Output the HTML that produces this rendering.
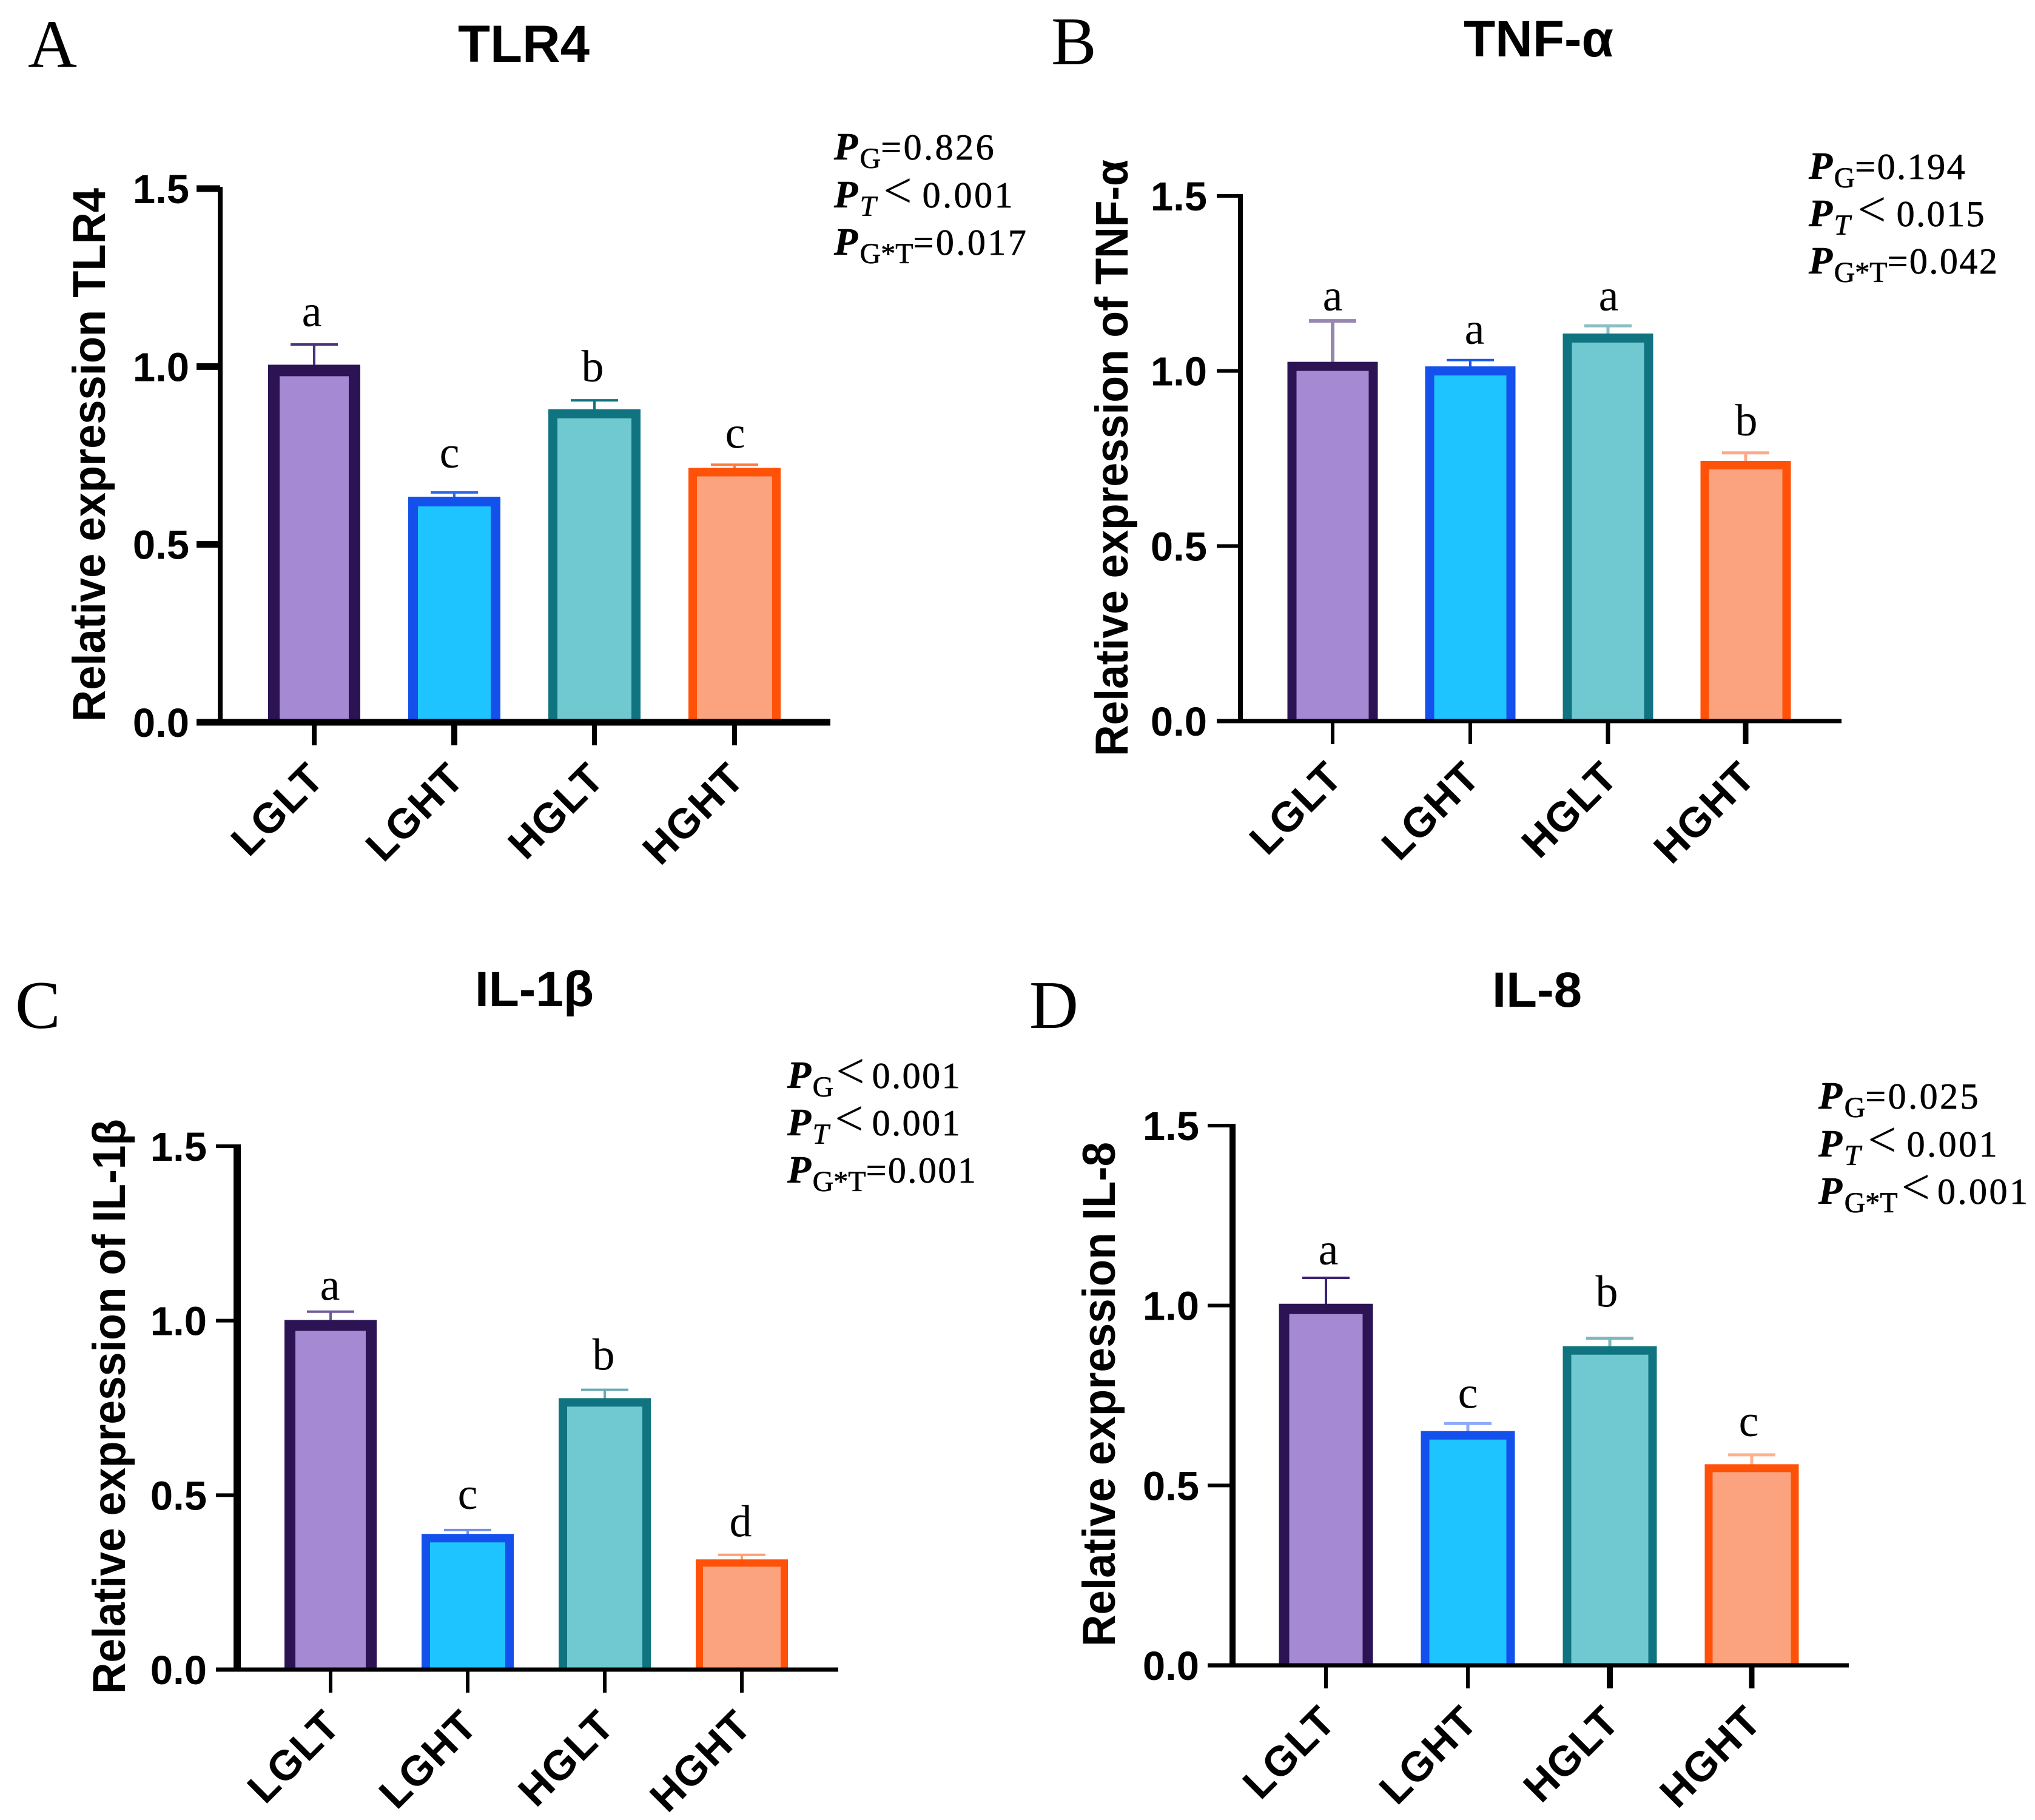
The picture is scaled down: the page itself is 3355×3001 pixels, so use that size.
<!DOCTYPE html>
<html lang="en">
<head>
<meta charset="utf-8">
<title>Relative expression of TLR4, TNF-α, IL-1β and IL-8</title>
<style>
html,body{margin:0;padding:0;background:#fff;width:3355px;height:3001px;overflow:hidden}
svg{display:block}
.sans{font-family:"Liberation Sans",sans-serif;font-weight:700;fill:#000}
.serif{font-family:"Liberation Serif",serif;fill:#000}
.pval{font-family:"Liberation Serif",serif;font-size:60px;letter-spacing:3.5px;fill:#000;stroke:#000;stroke-width:.7px}
.pval.tight{letter-spacing:2.5px}
.pval .p{font-style:italic;font-weight:700;font-size:64px}
.pval .s{font-size:48px;letter-spacing:0}
.pval .i{font-style:italic}
.pval .lt{font-size:84px;letter-spacing:4px;stroke-width:0}
.xl{letter-spacing:1.5px}
</style>
</head>
<body>
<svg id="figure" xmlns="http://www.w3.org/2000/svg" width="3355" height="3001" viewBox="0 0 3355 3001">
<rect width="3355" height="3001" fill="#fff"/>

<g id="panel-a">
  <text class="serif" x="46" y="110" font-size="112">A</text>
  <text class="sans" x="755" y="102" font-size="86" textLength="217" lengthAdjust="spacingAndGlyphs">TLR4</text>
  <text class="sans" transform="translate(173 1190) rotate(-90)" font-size="76" textLength="880" lengthAdjust="spacingAndGlyphs">Relative expression TLR4</text>
  <text class="pval" x="1375" y="263"><tspan class="p">P</tspan><tspan class="s" dy="14">G</tspan><tspan dy="-14">=0.826</tspan></text>
  <text class="pval" x="1375" y="342"><tspan class="p">P</tspan><tspan class="s i" dy="14">T</tspan><tspan class="lt" dy="-14" dx="12">&lt;</tspan><tspan dx="13">0.001</tspan></text>
  <text class="pval" x="1375" y="420"><tspan class="p">P</tspan><tspan class="s" dy="14">G*T</tspan><tspan dy="-14">=0.017</tspan></text>
</g>

<g id="panel-b">
  <text class="serif" x="1733" y="106" font-size="112">B</text>
  <text class="sans" x="2413" y="93" font-size="84" textLength="247" lengthAdjust="spacingAndGlyphs">TNF-α</text>
  <text class="sans" transform="translate(1859 1247) rotate(-90)" font-size="76" textLength="984" lengthAdjust="spacingAndGlyphs">Relative expression of TNF-α</text>
  <text class="pval tight" x="2982" y="295"><tspan class="p">P</tspan><tspan class="s" dy="14">G</tspan><tspan dy="-14">=0.194</tspan></text>
  <text class="pval tight" x="2982" y="373"><tspan class="p">P</tspan><tspan class="s i" dy="14">T</tspan><tspan class="lt" dy="-14" dx="12">&lt;</tspan><tspan dx="13">0.015</tspan></text>
  <text class="pval tight" x="2982" y="451"><tspan class="p">P</tspan><tspan class="s" dy="14">G*T</tspan><tspan dy="-14">=0.042</tspan></text>
</g>

<g id="panel-c">
  <text class="serif" x="25" y="1695" font-size="112">C</text>
  <text class="sans" x="783" y="1659" font-size="82" textLength="196" lengthAdjust="spacingAndGlyphs">IL-1β</text>
  <text class="sans" transform="translate(206 2793) rotate(-90)" font-size="76" textLength="948" lengthAdjust="spacingAndGlyphs">Relative expression of IL-1β</text>
  <text class="pval tight" x="1298" y="1794"><tspan class="p">P</tspan><tspan class="s" dy="14">G</tspan><tspan class="lt" dy="-14" dx="4">&lt;</tspan><tspan dx="8">0.001</tspan></text>
  <text class="pval tight" x="1298" y="1872"><tspan class="p">P</tspan><tspan class="s i" dy="14">T</tspan><tspan class="lt" dy="-14" dx="10">&lt;</tspan><tspan dx="10">0.001</tspan></text>
  <text class="pval tight" x="1298" y="1950"><tspan class="p">P</tspan><tspan class="s" dy="14">G*T</tspan><tspan dy="-14">=0.001</tspan></text>
</g>

<g id="panel-d">
  <text class="serif" x="1697" y="1695" font-size="112">D</text>
  <text class="sans" x="2460" y="1660" font-size="82" textLength="148" lengthAdjust="spacingAndGlyphs">IL-8</text>
  <text class="sans" transform="translate(1838 2715) rotate(-90)" font-size="76" textLength="832" lengthAdjust="spacingAndGlyphs">Relative expression IL-8</text>
  <text class="pval" x="2998" y="1828"><tspan class="p">P</tspan><tspan class="s" dy="14">G</tspan><tspan dy="-14">=0.025</tspan></text>
  <text class="pval" x="2998" y="1907"><tspan class="p">P</tspan><tspan class="s i" dy="14">T</tspan><tspan class="lt" dy="-14" dx="12">&lt;</tspan><tspan dx="13">0.001</tspan></text>
  <text class="pval" x="2998" y="1985"><tspan class="p">P</tspan><tspan class="s" dy="14">G*T</tspan><tspan class="lt" dy="-14" dx="6">&lt;</tspan><tspan dx="8">0.001</tspan></text>
</g>
</svg>

<script>
// ---- chart data ----
const categories = ['LGLT', 'LGHT', 'HGLT', 'HGHT'];
const yTicks = [0, 0.5, 1.0, 1.5];
const yTickLabels = ['0.0', '0.5', '1.0', '1.5'];

const tlr4Means = [1.005, 0.634, 0.880, 0.715];
const tlr4Upper = [1.062, 0.646, 0.905, 0.724];
const tlr4Letters = ['a', 'c', 'b', 'c'];

const tnfMeans = [1.026, 1.013, 1.107, 0.743];
const tnfUpper = [1.143, 1.031, 1.129, 0.766];
const tnfLetters = ['a', 'a', 'a', 'b'];

const il1Means = [1.002, 0.389, 0.778, 0.316];
const il1Upper = [1.026, 0.400, 0.802, 0.329];
const il1Letters = ['a', 'c', 'b', 'd'];

const il8Means = [1.005, 0.651, 0.887, 0.559];
const il8Upper = [1.077, 0.672, 0.909, 0.585];
const il8Letters = ['a', 'c', 'b', 'c'];

// ---- series styling ----
const fills = ['#A589D2', '#1EC4FF', '#70C8D0', '#FBA27E'];
const strokes = ['#2C1454', '#1450EB', '#107480', '#FF5208'];

// ---- panel layout ----
const panels = [
  {id:'panel-a', key:'a', means:tlr4Means, upper:tlr4Upper, letters:tlr4Letters,
   axisX:363, axisW:8, y0:1191, y15:311, baseL:324, baseR:1369, baseW:11, band0:518, bandStep:231, barW:152,
   sw:[19,16,15,14], yTickW:11, xTickW:[8,10,8,8], letterGap:[30,41,31,28], letterDx:[-4,-8,-3,1], tickLabelX:312,
   capColors:['#4A3478', '#2D68F0', '#107480', '#FF7A40'], stemW:[4,4,4,4]},
  {id:'panel-b', key:'b', means:tnfMeans, upper:tnfUpper, letters:tnfLetters,
   axisX:2045, axisW:8, y0:1189, y15:323, baseL:2006, baseR:3036, baseW:7, band0:2197, bandStep:227, barW:149,
   sw:[15,15,15,14], yTickW:6, xTickW:[6,6,7,9], letterGap:[17,27,25,29], letterDx:[0,7,1,1], tickLabelX:1990,
   capColors:['#9686B0', '#1A5AF0', '#8ABDC4', '#FBA98A'], stemW:[6,4,5,5]},
  {id:'panel-c', key:'c', means:il1Means, upper:il1Upper, letters:il1Letters,
   axisX:391, axisW:12, y0:2753, y15:1890, baseL:356, baseR:1382, baseW:7, band0:545, bandStep:226, barW:152,
   sw:[18,14,14,12], yTickW:6, xTickW:[6,6,6,6], letterGap:[19,35,33,30], letterDx:[-1,0,-2,-2], tickLabelX:341,
   capColors:['#6E5A98', '#7090F0', '#6AAAB4', '#FFA070'], stemW:[4,4,4,4]},
  {id:'panel-d', key:'d', means:il8Means, upper:il8Upper, letters:il8Letters,
   axisX:2032, axisW:10, y0:2746, y15:1856, baseL:1991, baseR:3048, baseW:7, band0:2186, bandStep:234, barW:155,
   sw:[17,14,14,13], yTickW:6, xTickW:[6,6,10,9], letterGap:[22,26,52,31], letterDx:[4,0,-5,-5], tickLabelX:1977,
   capColors:['#3A2270', '#8CAAF8', '#7FB6BE', '#FFB090'], stemW:[4,5,5,5]}
];

const NS = 'http://www.w3.org/2000/svg';
function make(tag, attrs, parent) {
  const el = document.createElementNS(NS, tag);
  for (const k in attrs) el.setAttribute(k, attrs[k]);
  parent.appendChild(el);
  return el;
}

panels.forEach(function (p) {
  const g = document.getElementById(p.id);
  const yScale = function (v) { return p.y0 + (p.y15 - p.y0) * v / 1.5; };
  const xScale = function (i) { return p.band0 + i * p.bandStep; };

  // bars and error bars (drawn before the axes)
  categories.forEach(function (cat, i) {
    const cx = xScale(i);
    const sw = p.sw[i];
    const top = yScale(p.means[i]);
    const capY = yScale(p.upper[i]);
    const left = cx - p.barW / 2 + sw / 2;
    const right = cx + p.barW / 2 - sw / 2;

    const stem = make('line', {x1: cx, x2: cx, y1: capY, y2: top + 2, stroke: p.capColors[i], 'stroke-width': p.stemW[i]}, g);
    
    

    const cap = make('line', {x1: cx - 39, x2: cx + 39, y1: capY, y2: capY, stroke: p.capColors[i], 'stroke-width': p.stemW[i]}, g);
    
    

    const bar = make('path', {d: 'M' + left + ' ' + p.y0 + 'L' + left + ' ' + (top + sw / 2) + 'L' + right + ' ' + (top + sw / 2) + 'L' + right + ' ' + p.y0, fill: fills[i], stroke: strokes[i], 'stroke-width': sw}, g);
    
    

    const letter = make('text', {x: cx + p.letterDx[i], y: capY - p.letterGap[i], 'text-anchor': 'middle', 'font-size': 74, class: 'serif'}, g);
    letter.textContent = p.letters[i];
    
    

    const tick = make('line', {x1: cx, x2: cx, y1: p.y0, y2: p.y0 + 38, stroke: '#000', 'stroke-width': p.xTickW[i]}, g);
    
    

    const lx = cx + 20;
    const ly = p.y0 + 96;
    const label = make('text', {x: lx, y: ly, 'text-anchor': 'end', 'font-size': 69, class: 'sans xl', transform: 'rotate(-45 ' + lx + ' ' + ly + ')'}, g);
    label.textContent = cat;
    
    
  });

  // y axis line and baseline
  const yAxis = make('line', {x1: p.axisX, x2: p.axisX, y1: yScale(1.5) - 3, y2: p.y0, stroke: '#000', 'stroke-width': p.axisW}, g);
  
  

  const xAxis = make('line', {x1: p.baseL, x2: p.baseR, y1: p.y0, y2: p.y0, stroke: '#000', 'stroke-width': p.baseW}, g);
  
  

  // y ticks and labels
  yTicks.forEach(function (t, i) {
    const y = yScale(t);
    const tick = make('line', {x1: p.baseL, x2: p.axisX, y1: y, y2: y, stroke: '#000', 'stroke-width': p.yTickW}, g);
    
    

    const label = make('text', {x: p.tickLabelX, y: y + 24, 'text-anchor': 'end', 'font-size': 67, class: 'sans'}, g);
    label.textContent = yTickLabels[i];
    
    
  });
});
</script>
</body>
</html>
